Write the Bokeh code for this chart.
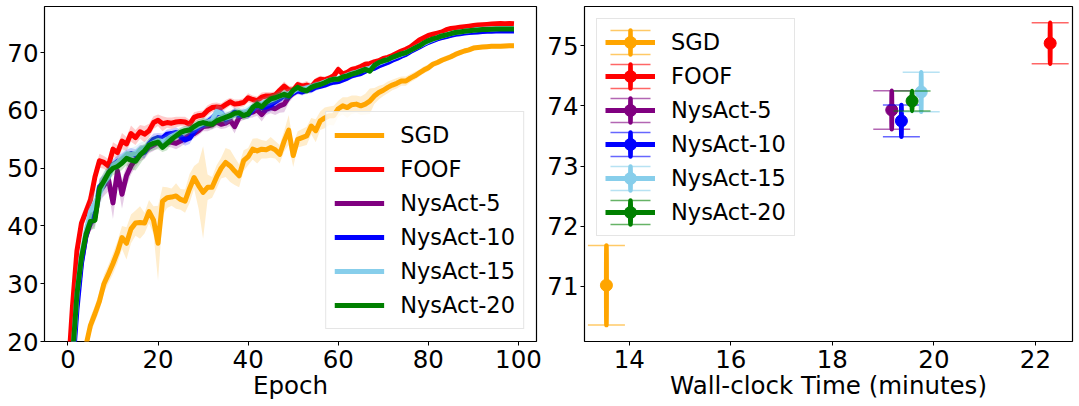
from bokeh.plotting import figure
from bokeh.layouts import row
from bokeh.models import Range1d, FixedTicker, Legend, LegendItem
from bokeh.embed import file_html
from bokeh.resources import INLINE

FONT = "DejaVu Sans"

epochs = list(range(100))

sgd = [5, 9, 13, 16, 19.3, 22.8, 24.8, 27, 30, 31.7,
       33.5, 35.5, 38, 37, 39.5, 40.5, 40.6, 40.5, 42.5, 41,
       37, 44.3, 44.9, 45, 45.2, 44.6, 44.3, 46.5, 48.4, 47,
       45.8, 46.7, 46.7, 48.5, 50, 51, 50.4, 49.5, 48.7, 51.3,
       52, 53.3, 53, 53.3, 53.2, 53.6, 53.2, 52.4, 54.7, 56.6,
       52.2, 55, 55.3, 55.6, 57.3, 56.5, 58.2, 58.7, 59.1, 59.1,
       60.3, 60.8, 60.5, 61.0, 61.1, 60.8, 61.1, 61.6, 62.5, 63.1,
       63.5, 64, 64.4, 64.7, 65.1, 65.1, 65.6, 66, 66.5, 67,
       67.4, 68, 68.3, 68.7, 69, 69.3, 69.7, 70, 70.3, 70.5,
       70.8, 70.9, 71, 71.05, 71.1, 71.1, 71.1, 71.15, 71.2, 71.2]
sgd_std = [1.0, 1.0, 1.2, 1.2, 1.5, 1.5, 1.4, 1.6, 1.5, 1.6,
           1.8, 1.9, 2.0, 2.8, 2.5, 2.2, 2.8, 1.8, 2.0, 2.4,
           6.5, 2.5, 1.8, 1.5, 2.2, 1.8, 2.0, 2.5, 2.0, 4.0,
           8.0, 2.2, 1.8, 2.0, 1.8, 2.5, 2.8, 2.4, 2.0, 1.8,
           1.5, 1.8, 2.2, 1.6, 1.5, 1.8, 1.5, 1.6, 1.8, 2.6,
           2.0, 1.4, 1.5, 1.6, 1.4, 2.0, 1.6, 1.8, 1.6, 1.7,
           1.4, 1.5, 1.8, 1.6, 1.5, 1.6, 1.8, 2.2, 1.4, 1.2,
           1.0, 1.0, 0.9, 0.9, 0.8, 0.8, 0.7, 0.7, 0.6, 0.6,
           0.6, 0.5, 0.5, 0.5, 0.5, 0.5, 0.4, 0.4, 0.4, 0.4,
           0.4, 0.4, 0.4, 0.4, 0.4, 0.4, 0.4, 0.4, 0.4, 0.4]

foof = [14, 26, 35.7, 40.5, 42.5, 44.5, 48.5, 51.3, 51, 50.4,
        53.3, 52.7, 54.7, 54.2, 56, 55.3, 56.3, 55.9, 56.5, 57.9,
        58.3, 57.7, 57.9, 57.8, 58, 58.1, 58, 57.6, 58.8, 59.1,
        59.2, 60, 60.5, 60.6, 60.5, 61, 61.5, 61.1, 61.2, 61.4,
        62.2, 61.9, 61.7, 62.3, 62.5, 62.5, 62.7, 63.5, 64.2, 63.6,
        63.5, 64.5, 64.2, 64.4, 64.1, 65, 65.4, 65.3, 65.6, 66,
        67.1, 66.3, 66.6, 67.1, 67.3, 67.6, 68, 68.1, 68.4, 68.6,
        69, 69.2, 69.5, 69.9, 70.3, 70.6, 71, 71.6, 72.2, 72.6,
        73, 73.2, 73.4, 73.6, 74, 74.2, 74.3, 74.4, 74.5, 74.6,
        74.7, 74.8, 74.85, 74.9, 74.95, 75.0, 75.05, 75.0, 75.05, 75.0]
foof_std = [1.5, 1.5, 1.4, 1.3, 1.3, 1.5, 1.4, 1.2, 1.1, 1.2,
            1.2, 1.3, 1.4, 1.2, 1.4, 1.3, 1.2, 1.4, 1.2, 1.1,
            1.0, 1.3, 0.9, 1.0, 0.9, 0.8, 0.9, 0.8, 0.9, 0.8,
            0.8, 0.9, 0.8, 0.8, 0.7, 0.8, 0.7, 0.8, 0.7, 0.7,
            0.8, 0.7, 0.7, 0.8, 0.7, 0.7, 0.6, 0.7, 0.8, 0.7,
            0.7, 0.6, 0.6, 0.7, 0.6, 0.6, 0.6, 0.6, 0.5, 0.6,
            0.7, 0.5, 0.5, 0.5, 0.5, 0.5, 0.5, 0.5, 0.5, 0.4,
            0.4, 0.4, 0.4, 0.4, 0.4, 0.4, 0.4, 0.35, 0.35, 0.35,
            0.35, 0.35, 0.35, 0.35, 0.35, 0.3, 0.3, 0.3, 0.3, 0.3,
            0.3, 0.3, 0.3, 0.3, 0.3, 0.3, 0.3, 0.3, 0.3, 0.3]

nys5 = [7, 16, 27, 33.8, 38.2, 40.5, 41.5, 46, 47, 48,
        44, 49.5, 45.5, 48.7, 50.4, 51.5, 52.4, 52.8, 53.6, 54,
        54.5, 54.2, 54.6, 54.5, 54.3, 54.7, 55.2, 55.7, 56, 56.5,
        57.2, 57.3, 57.5, 58, 57.6, 57.8, 58.3, 57.2, 58.8, 59.2,
        59.5, 59.7, 60.1, 59.3, 60.2, 60.5, 60.3, 60.8, 61.1, 62.3,
        63, 63.5, 63.4, 63.6, 64, 64.2, 64.4, 64.7, 65, 65.2,
        65.3, 65.6, 65.9, 66.2, 66.4, 66.7, 67, 67.2, 67.5, 67.9,
        68.2, 68.5, 68.9, 69.3, 69.6, 69.9, 70.3, 70.7, 71.1, 71.5,
        71.9, 72.2, 72.5, 72.7, 72.9, 73.1, 73.3, 73.45, 73.55, 73.65,
        73.7, 73.75, 73.8, 73.85, 73.9, 73.9, 73.9, 73.95, 73.95, 73.95]
nys5_std = [1.5, 1.5, 1.5, 1.4, 1.4, 1.4, 1.5, 1.6, 1.8, 2.0,
            2.8, 2.0, 2.5, 1.8, 1.5, 1.3, 1.2, 1.2, 1.0, 1.0,
            1.0, 1.0, 0.9, 0.9, 1.0, 1.0, 0.9, 0.9, 0.8, 0.8,
            0.8, 0.9, 0.8, 0.9, 0.8, 0.9, 1.0, 1.2, 0.9, 0.8,
            0.8, 0.9, 1.0, 1.2, 1.0, 1.0, 1.1, 1.2, 1.4, 1.0,
            0.7, 0.7, 0.6, 0.6, 0.6, 0.6, 0.6, 0.5, 0.5, 0.5,
            0.5, 0.5, 0.5, 0.5, 0.5, 0.5, 0.5, 0.4, 0.4, 0.4,
            0.4, 0.4, 0.4, 0.4, 0.4, 0.4, 0.35, 0.35, 0.35, 0.35,
            0.35, 0.35, 0.3, 0.3, 0.3, 0.3, 0.3, 0.3, 0.3, 0.3,
            0.3, 0.3, 0.3, 0.3, 0.3, 0.3, 0.3, 0.3, 0.3, 0.3]

nys10 = [6, 15, 25.5, 33.5, 38.3, 41, 42, 46.8, 47.5, 49,
         50.5, 51.2, 51.5, 52.2, 52.5, 52.3, 53, 52.8, 54.2, 55,
         55.3, 55.2, 55.9, 56, 56.2, 55.5, 54.9, 55.2, 56.3, 57.2,
         57.5, 58, 58.6, 59.4, 59.6, 58.5, 59, 59.7, 59.2, 59.5,
         59.3, 60.1, 61, 60.5, 60.6, 60.9, 61.5, 62, 62.6, 62.4,
         63, 63.4, 63.2, 63.5, 63.6, 64, 64.2, 64.4, 64.7, 64.9,
         65, 65.3, 65.6, 66, 66.2, 66.4, 66.8, 67.1, 67.3, 67.7,
         68, 68.3, 68.7, 69, 69.4, 69.7, 70.2, 70.6, 71, 71.4,
         71.8, 72.1, 72.4, 72.6, 72.8, 73, 73.2, 73.3, 73.4, 73.5,
         73.55, 73.6, 73.65, 73.7, 73.7, 73.75, 73.75, 73.75, 73.75, 73.75]
nys10_std = [1.4, 1.4, 1.4, 1.4, 1.4, 1.4, 1.5, 1.4, 1.4, 1.3,
             1.0, 1.0, 1.1, 1.0, 1.0, 1.0, 1.0, 1.1, 1.0, 1.0,
             0.8, 0.8, 0.8, 0.8, 0.9, 1.0, 1.0, 1.0, 0.8, 0.8,
             0.8, 0.8, 0.8, 0.9, 0.9, 1.0, 0.8, 0.8, 0.8, 0.8,
             0.8, 0.8, 0.8, 0.8, 1.1, 1.1, 1.1, 0.8, 0.8, 0.8,
             0.6, 0.6, 0.6, 0.6, 0.6, 0.6, 0.5, 0.5, 0.5, 0.5,
             0.5, 0.5, 0.5, 0.5, 0.5, 0.5, 0.5, 0.4, 0.4, 0.4,
             0.4, 0.4, 0.4, 0.4, 0.4, 0.4, 0.35, 0.35, 0.35, 0.35,
             0.35, 0.35, 0.3, 0.3, 0.3, 0.3, 0.3, 0.3, 0.3, 0.3,
             0.3, 0.3, 0.3, 0.3, 0.3, 0.3, 0.3, 0.3, 0.3, 0.3]

nys15 = [8, 17, 28, 35, 39, 42.5, 44, 45.5, 47.5, 48.5,
         50.5, 51, 51.8, 52.5, 52.3, 52.6, 53.2, 53.5, 54, 54.4,
         54.8, 54.6, 55, 55.5, 55.9, 56.2, 56.4, 56.8, 57, 57.4,
         57.8, 58, 58.3, 59.8, 59.5, 58.7, 58.9, 59.3, 59.6, 59.6,
         60, 60.6, 61, 61.2, 61.5, 61.8, 62.1, 62.5, 62.7, 62.9,
         63.3, 63.8, 63.7, 63.9, 64.1, 64.4, 64.6, 64.9, 65.2, 65.4,
         65.5, 65.8, 66.1, 66.4, 66.6, 66.9, 67.1, 67.3, 67.8, 68.2,
         68.5, 68.8, 69.1, 69.4, 69.7, 70, 70.4, 70.8, 71.2, 71.6,
         72, 72.3, 72.6, 72.9, 73.1, 73.3, 73.5, 73.6, 73.7, 73.8,
         73.9, 74, 74.05, 74.1, 74.1, 74.15, 74.2, 74.2, 74.2, 74.2]
nys15_std = [1.5, 1.5, 1.5, 1.5, 1.6, 2.2, 2.2, 2.2, 2.0, 1.6,
             1.2, 1.2, 1.2, 1.2, 1.2, 1.2, 1.2, 1.2, 1.2, 1.2,
             0.9, 0.9, 0.9, 0.9, 0.9, 0.9, 0.9, 0.9, 0.9, 0.9,
             0.9, 0.9, 0.9, 1.2, 1.2, 1.2, 0.9, 0.9, 0.9, 0.9,
             0.9, 0.9, 0.9, 0.9, 0.9, 0.9, 0.9, 0.9, 0.9, 0.9,
             0.6, 0.6, 0.6, 0.6, 0.6, 0.6, 0.5, 0.5, 0.5, 0.5,
             0.5, 0.5, 0.5, 0.5, 0.5, 0.5, 0.5, 0.4, 0.4, 0.4,
             0.4, 0.4, 0.4, 0.4, 0.4, 0.4, 0.35, 0.35, 0.35, 0.35,
             0.35, 0.35, 0.3, 0.3, 0.3, 0.3, 0.3, 0.3, 0.3, 0.3,
             0.3, 0.3, 0.3, 0.3, 0.3, 0.3, 0.3, 0.3, 0.3, 0.3]

nys20 = [8, 17.3, 28.2, 34.5, 38.5, 40.8, 41, 46.5, 47.8, 49.2,
         50, 50.3, 50.9, 51.7, 51.4, 51.2, 52.3, 53, 54, 54.3,
         54.5, 53.6, 54.3, 55, 55.6, 56.2, 56.5, 56.6, 57.2, 57.7,
         57.9, 57.7, 57.6, 58.2, 58.5, 58.8, 59.1, 59.5, 59.6, 59.1,
         59.4, 60.5, 61.1, 60.6, 61.4, 62, 62.2, 62.5, 62.8, 62.5,
         63.5, 64, 63.6, 63.4, 64, 64.3, 64.5, 64.8, 65.2, 65.4,
         65.4, 65.8, 66, 66.3, 66.5, 66.8, 67.1, 66.8, 67.8, 68.3,
         68.6, 68.8, 69.2, 69.5, 69.8, 70, 70.4, 70.8, 71.2, 71.7,
         72.1, 72.4, 72.6, 72.9, 73.1, 73.3, 73.5, 73.6, 73.7, 73.8,
         73.9, 73.95, 74, 74, 74.05, 74.1, 74.1, 74.1, 74.1, 74.1]
nys20_std = [1.5, 1.5, 1.5, 1.5, 1.5, 1.5, 1.5, 1.5, 1.5, 1.5,
             1.2, 1.2, 1.2, 1.2, 1.6, 1.6, 1.6, 1.2, 1.2, 1.2,
             1.2, 0.8, 1.2, 0.8, 0.8, 0.8, 0.8, 0.8, 0.8, 0.8,
             0.8, 0.8, 0.8, 0.8, 0.8, 0.8, 0.8, 0.8, 0.8, 0.8,
             0.8, 0.8, 0.8, 0.8, 0.8, 0.8, 0.8, 0.8, 0.8, 0.8,
             0.6, 0.6, 0.6, 0.6, 0.6, 0.6, 0.5, 0.5, 0.5, 0.5,
             0.5, 0.5, 0.5, 0.5, 0.5, 0.5, 0.5, 0.4, 0.4, 0.4,
             0.4, 0.4, 0.4, 0.4, 0.4, 0.4, 0.35, 0.35, 0.35, 0.35,
             0.35, 0.35, 0.3, 0.3, 0.3, 0.3, 0.3, 0.3, 0.3, 0.3,
             0.3, 0.3, 0.3, 0.3, 0.3, 0.3, 0.3, 0.3, 0.3, 0.3]

names = ["SGD", "FOOF", "NysAct-5", "NysAct-10", "NysAct-15", "NysAct-20"]
colors = ["orange", "red", "purple", "blue", "skyblue", "green"]
curves = [sgd, foof, nys5, nys10, nys15, nys20]
curve_std = [sgd_std, foof_std, nys5_std, nys10_std, nys15_std, nys20_std]

# right panel: wall-clock time (minutes) vs final accuracy
wall_time = [13.55, 22.29, 19.17, 19.36, 19.75, 19.57]
final_acc = [71.02, 75.04, 73.93, 73.75, 74.23, 74.08]
final_err = [0.66, 0.34, 0.32, 0.265, 0.33, 0.165]

x_ticks_left = [0, 20, 40, 60, 80, 100]
y_ticks_left = [20, 30, 40, 50, 60, 70]
x_ticks_right = [14, 16, 18, 20, 22]
y_ticks_right = [71, 72, 73, 74, 75]

TICK_FS = "24.5px"
LEG_FS = "22.5px"


def style(p, xticks, yticks, xlabel):
    p.xaxis.ticker = FixedTicker(ticks=xticks)
    p.yaxis.ticker = FixedTicker(ticks=yticks)
    p.xgrid.visible = False
    p.ygrid.visible = False
    p.outline_line_color = "black"
    p.outline_line_width = 1.2
    p.outline_line_alpha = 1.0
    p.xaxis.axis_label = xlabel
    for ax in p.xaxis + p.yaxis:
        ax.axis_line_color = None
        ax.major_tick_in = 0
        ax.major_tick_out = 4
        ax.major_tick_line_color = "black"
        ax.major_tick_line_width = 1
        ax.minor_tick_line_color = None
        ax.major_label_text_font = FONT
        ax.major_label_text_font_size = TICK_FS
        ax.major_label_text_color = "black"
        ax.axis_label_text_font = FONT
        ax.axis_label_text_font_size = TICK_FS
        ax.axis_label_text_font_style = "normal"
        ax.axis_label_text_color = "black"
    p.xaxis.major_label_standoff = 4
    p.xaxis.axis_label_standoff = 0
    p.yaxis.major_label_standoff = 2


def make_legend(items, location):
    leg = Legend(items=items, location=location)
    leg.label_text_font = FONT
    leg.label_text_font_size = LEG_FS
    leg.label_text_color = "black"
    leg.glyph_width = 50
    leg.glyph_height = 30
    leg.label_height = 30
    leg.label_standoff = 16
    leg.spacing = 4
    leg.padding = 8
    leg.margin = 12
    leg.border_line_color = "#cccccc"
    leg.border_line_width = 1
    leg.background_fill_color = "white"
    leg.background_fill_alpha = 0.8
    return leg


# ---------------- left panel ----------------
p1 = figure(width=544, height=406, output_backend="svg", toolbar_location=None,
            x_range=Range1d(-5.2, 104.0), y_range=Range1d(20, 78),
            min_border_left=44, min_border_right=8, min_border_top=6, min_border_bottom=65)
style(p1, x_ticks_left, y_ticks_left, "Epoch")

items1 = []
for name, c, m, s in zip(names, colors, curves, curve_std):
    lo = [a - b for a, b in zip(m, s)]
    hi = [a + b for a, b in zip(m, s)]
    p1.varea(x=epochs, y1=lo, y2=hi, fill_color=c, fill_alpha=0.2)
    r = p1.line(x=epochs, y=m, line_color=c, line_width=5, line_join="round")
    items1.append(LegendItem(label=name, renderers=[r]))
p1.add_layout(make_legend(items1, "bottom_right"))

# ---------------- right panel ----------------
p2 = figure(width=535, height=406, output_backend="svg", toolbar_location=None,
            x_range=Range1d(13.118, 22.73), y_range=Range1d(70.086, 75.65),
            min_border_left=38, min_border_right=7, min_border_top=6, min_border_bottom=65)
style(p2, x_ticks_right, y_ticks_right, "Wall-clock Time (minutes)")

items2 = []
for name, c, t, a, e in zip(names, colors, wall_time, final_acc, final_err):
    ln = p2.line(x=[t], y=[a], line_color=c, line_width=5)
    bar = p2.ellipse(x=[t], y=[a], width=0.5, height=[2 * e],
                     width_units="screen", height_units="data",
                     fill_color=None, line_color=c, line_width=4.5)
    p2.scatter(x=[t, t], y=[a - e, a + e], marker="dash", size=37,
               line_color=c, line_width=1.5, line_alpha=0.6)
    cap_leg = p2.rect(x=[t], y=[a], width=0, height=0, width_units="screen",
                      height_units="screen", fill_color=None, line_color=c,
                      line_alpha=0.6, line_width=1.5, line_dash="40 24")
    dot = p2.scatter(x=[t], y=[a], marker="circle", size=12, fill_color=c, line_color=c)
    items2.append(LegendItem(label=name, renderers=[ln, cap_leg, bar, dot]))
p2.add_layout(make_legend(items2, "top_left"))

layout = row(p1, p2)
open("out.html", "w").write(file_html(layout, INLINE))
